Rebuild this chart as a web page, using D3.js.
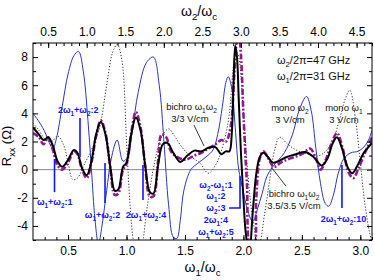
<!DOCTYPE html>
<html><head><meta charset="utf-8">
<script src="https://cdn.jsdelivr.net/npm/d3@7"></script>
<style>body{margin:0;background:#fff}svg{display:block;font-family:"Liberation Sans",Arial,sans-serif}</style>
</head><body><svg id="c" width="374" height="280"></svg>
<script>
// ---- data (x = ω1/ωc, y = Rxx in Ω) ----
const bichro3X = [0.2,0.25,0.29,0.33,0.37,0.41,0.45,0.5,0.55,0.58,0.62,0.66,0.7,0.74,0.78,0.82,0.86,0.9,0.93,0.97,1.0,1.04,1.08,1.12,1.16,1.2,1.23,1.27,1.31,1.35,1.4,1.46,1.52,1.58,1.64,1.7,1.76,1.81,1.85,1.88,1.9,1.915,1.93,1.945,1.96,1.98,2.0,2.02,2.05,2.08,2.11,2.14,2.17,2.21,2.25,2.3,2.37,2.45,2.53,2.6,2.67,2.72,2.76,2.8,2.84,2.89,2.93,2.97,3.03,3.1];
const bichro3Y = [3.0,2.5,2.1,2.3,1.7,0.6,0.2,0.7,1.4,1.2,0.1,-0.4,0.6,2.5,3.4,2.5,0.3,-1.5,-1.4,0.2,0.5,2.5,3.7,2.8,0.3,-1.6,-1.7,0.3,1.8,1.9,1.2,0.55,1.0,1.35,1.3,1.55,1.6,1.1,1.3,1.3,2.5,6.0,8.8,8.0,5.0,1.0,-2.0,-4.5,-6.0,-3.0,-0.3,0.9,1.2,0.9,0.5,0.6,0.9,1.1,1.25,0.9,0.3,0.8,1.8,2.3,1.6,0.2,-0.25,0.2,1.2,1.9];

const bichro35X = [0.2,0.25,0.29,0.33,0.37,0.41,0.45,0.5,0.55,0.58,0.62,0.66,0.7,0.74,0.78,0.82,0.86,0.9,0.93,0.97,1.0,1.04,1.08,1.12,1.16,1.2,1.23,1.27,1.3,1.34,1.38,1.43,1.5,1.58,1.64,1.7,1.76,1.81,1.85,1.89,1.92,1.945,1.96,1.98,2.0,2.03,2.06,2.09,2.11,2.14,2.17,2.22,2.26,2.32,2.4,2.5,2.57,2.62,2.66,2.7,2.76,2.8,2.85,2.9,2.94,2.98,3.04,3.1];
const bichro35Y = [2.6,2.3,1.8,2.3,1.4,0.3,0.0,0.5,1.3,1.1,0.0,-0.6,0.5,2.4,3.5,2.6,0.2,-1.8,-1.7,0.0,0.4,2.6,4.1,3.0,0.2,-1.9,-1.9,0.6,2.5,2.3,1.3,0.9,0.7,1.0,1.2,1.5,1.8,2.1,2.0,3.0,6.5,9.3,9.8,8.0,4.0,-1.0,-5.5,-5.5,-2.0,0.8,1.3,0.7,0.2,0.5,0.8,1.1,1.5,0.8,0.0,0.6,2.0,2.6,1.5,-0.2,-0.6,0.0,1.2,2.3];

const monoW2X = [0.2,0.26,0.3,0.34,0.37,0.4,0.45,0.5,0.55,0.59,0.63,0.67,0.7,0.73,0.76,0.79,0.83,0.87,0.92,0.97,1.01,1.05,1.1,1.17,1.23,1.28,1.32,1.36,1.4,1.43,1.46,1.49,1.55,1.61,1.68,1.74,1.78,1.82,1.85,1.87,1.9,1.93,1.96,1.99,2.04,2.08,2.12,2.16,2.2,2.25,2.35,2.42,2.48,2.54,2.58,2.62,2.66,2.7,2.73,2.77,2.81,2.86,2.92,2.98,3.03,3.07,3.1];
const monoW2Y = [4.0,3.3,2.7,1.9,1.5,2.2,4.5,6.8,8.1,8.4,7.0,3.5,0.0,-3.5,-5.3,-4.0,-1.5,0.8,2.1,0.6,0.9,2.8,5.5,7.6,8.0,6.0,2.0,-2.5,-4.8,-4.9,-3.6,-1.5,0.0,0.45,0.9,1.4,2.5,4.5,6.2,6.6,5.8,3.0,0.0,-1.2,-3.0,-3.7,-2.8,-1.7,-0.5,0.2,1.2,2.5,4.3,5.2,4.2,1.5,-1.0,-2.4,-2.6,-1.8,-0.3,0.8,1.2,1.3,1.6,2.1,2.8];

const monoW1X = [0.2,0.25,0.3,0.36,0.41,0.46,0.5,0.54,0.58,0.64,0.7,0.77,0.83,0.88,0.92,0.96,1.0,1.03,1.06,1.09,1.13,1.18,1.24,1.3,1.36,1.41,1.46,1.54,1.63,1.7,1.77,1.84,1.88,1.91,1.935,1.96,2.0,2.04,2.08,2.13,2.18,2.22,2.27,2.31,2.38,2.45,2.55,2.65,2.75,2.82,2.87,2.91,2.96,3.0,3.04,3.08,3.1];
const monoW1Y = [3.3,2.8,2.2,2.0,2.4,1.8,0.5,-0.7,-0.6,0.4,1.4,3.0,6.0,8.3,8.9,7.8,2.0,-2.5,-5.2,-6.5,-5.5,-2.5,0.5,2.3,2.9,2.4,1.75,1.0,0.45,-0.25,0.45,2.2,4.0,7.0,8.5,8.0,4.0,-0.5,-3.5,-5.5,-3.2,-1.0,1.5,2.3,1.8,1.4,1.1,1.0,1.8,3.5,5.0,5.65,3.5,0.5,-2.5,-4.5,-5.2];

// tick values
const xMajor = [0.5,1.0,1.5,2.0,2.5,3.0];
const topMajor = [0.5,1.0,1.5,2.0,2.5,3.0,3.5,4.0,4.5];
const yMajor = [-4,-2,0,2,4,6,8];
const yMinor = [-5,-3,-1,1,3,5,7,9];
const freqRatio = 47/31;

// annotations (positions in data units)
const markers = [
  {x:0.602, y0:3.67, y1:0.9},
  {x:0.384, y0:0.75, y1:-1.6},
  {x:0.816, y0:0.47, y1:-2.37},
  {x:1.141, y0:0.33, y1:-2.16},
  {x:2.843, y0:0.33, y1:-2.73}
];
const markerLabels = [
  {x:0.587, y:4.0, t:"2ω_1+ω_2:2", a:"middle"},
  {x:0.234, y:-2.52, t:"ω_1+ω_2:1", a:"start"},
  {x:0.795, y:-3.44, t:"ω_1+ω_2:2", a:"middle"},
  {x:1.167, y:-3.44, t:"2ω_1+ω_2:4", a:"middle"},
  {x:2.856, y:-3.72, t:"2ω_1+ω_2:10", a:"middle"}
];
const stackLabels = ["ω_2-ω_1:1","ω_1:2","ω_2:3","2ω_1:4","ω_1+ω_2:5"];
const stackY = [-1.31,-2.12,-2.94,-3.8,-4.65];

const W=374,H=280, L=33,R=372,T=43,B=240;
const svg = d3.select("#c");
const x = d3.scaleLinear().domain([0.2,3.1]).range([L,R]);
const xTop = d3.scaleLinear().domain([0.2*freqRatio,3.1*freqRatio]).range([L,R]);
const y = d3.scaleLinear().domain([-5,9]).range([B,T]);

function rich(t, s, fs){
  let shift=0; const re=/_\{([^}]*)\}|_(.)|([^_]+)/g; let m;
  while((m=re.exec(s))){
    const sub = m[1]!==undefined?m[1]:m[2];
    if(sub!==undefined){ t.append("tspan").attr("dy",fs*0.3-shift).attr("font-size",fs*0.7).text(sub); shift=fs*0.3; }
    else { t.append("tspan").attr("dy",-shift).text(m[3]); shift=0; }
  }
  return t;
}

svg.append("defs").append("clipPath").attr("id","clip").append("rect")
  .attr("x",L).attr("y",T).attr("width",R-L).attr("height",B-T);

// zero line
svg.append("line").attr("x1",L).attr("x2",R).attr("y1",y(0)).attr("y2",y(0))
  .attr("stroke","#555").attr("stroke-width",0.7);

const line = d3.line().x(d=>x(d[0])).y(d=>y(d[1])).curve(d3.curveCatmullRom.alpha(0.5));
const g = svg.append("g").attr("clip-path","url(#clip)");
const series = [
  {X:monoW1X,Y:monoW1Y,stroke:"#333",w:1,dash:"1.2,1.8"},
  {X:monoW2X,Y:monoW2Y,stroke:"#2a36c0",w:1,dash:null},
  {X:bichro35X,Y:bichro35Y,stroke:"#8e1b8e",w:2.6,dash:"6,2,1.8,2"},
  {X:bichro3X,Y:bichro3Y,stroke:"#000",w:2,dash:null}
];
series.forEach(s=>{
  g.append("path").datum(s.X.map((v,i)=>[v,s.Y[i]])).attr("d",line)
   .attr("fill","none").attr("stroke",s.stroke).attr("stroke-width",s.w)
   .attr("stroke-dasharray",s.dash).attr("stroke-linejoin","round");
});

// axes
function clean(a){ a.select(".domain").remove(); a.selectAll("line").attr("stroke","#000"); a.selectAll("text").attr("font-size",12).attr("font-family","Liberation Sans, Arial").attr("fill","#000"); }
const xMinor = d3.range(3,32).map(i=>i/10);
const topMinor = d3.range(4,48).map(i=>i/10);
svg.append("g").attr("transform",`translate(0,${B})`).call(d3.axisBottom(x).tickValues(xMinor).tickSize(-3).tickFormat("")).call(clean);
svg.append("g").attr("transform",`translate(0,${B})`).call(d3.axisBottom(x).tickValues(xMajor).tickSizeInner(-5).tickSizeOuter(0).tickPadding(6).tickFormat(d3.format(".1f"))).call(clean);
svg.append("g").attr("transform",`translate(0,${T})`).call(d3.axisTop(xTop).tickValues(topMinor).tickSize(-3).tickFormat("")).call(clean);
svg.append("g").attr("transform",`translate(0,${T})`).call(d3.axisTop(xTop).tickValues(topMajor).tickSizeInner(-5).tickSizeOuter(0).tickPadding(7).tickFormat(d3.format(".1f"))).call(clean);
svg.append("g").attr("transform",`translate(${L},0)`).call(d3.axisLeft(y).tickValues(yMinor).tickSize(-3).tickFormat("")).call(clean);
svg.append("g").attr("transform",`translate(${L},0)`).call(d3.axisLeft(y).tickValues(yMajor).tickSizeInner(-5).tickSizeOuter(0).tickPadding(5).tickFormat(d=>String(d))).call(clean);
svg.append("g").attr("transform",`translate(${R},0)`).call(d3.axisRight(y).tickValues(yMinor).tickSize(-3).tickFormat("")).call(clean);
svg.append("g").attr("transform",`translate(${R},0)`).call(d3.axisRight(y).tickValues(yMajor).tickSize(-5).tickFormat("")).call(clean);
svg.append("rect").attr("x",L).attr("y",T).attr("width",R-L).attr("height",B-T)
  .attr("fill","none").attr("stroke","#000").attr("stroke-width",1);

// axis titles
rich(svg.append("text").attr("x",(L+R)/2).attr("y",272).attr("text-anchor","middle").attr("font-size",14),"ω_1/ω_c",14);
rich(svg.append("text").attr("x",199).attr("y",16).attr("text-anchor","middle").attr("font-size",14),"ω_2/ω_c",14);
rich(svg.append("text").attr("transform","translate(11,146) rotate(-90)").attr("text-anchor","middle").attr("font-size",13),"R_{xx} (Ω)",13);

// blue markers
const blue="#1414ff";
svg.selectAll(".mk").data(markers).join("line").attr("x1",d=>x(d.x)).attr("x2",d=>x(d.x))
  .attr("y1",d=>y(d.y0)).attr("y2",d=>y(d.y1)).attr("stroke",blue).attr("stroke-width",1.6);
markerLabels.forEach(d=>{
  rich(svg.append("text").attr("x",x(d.x)).attr("y",y(d.y)).attr("text-anchor",d.a)
    .attr("font-size",9).attr("font-weight","bold").attr("fill",blue),d.t,9);
});
stackLabels.forEach((t,i)=>{
  rich(svg.append("text").attr("x",x(1.765)).attr("y",y(stackY[i])).attr("text-anchor","middle")
    .attr("font-size",9).attr("font-weight","bold").attr("fill",blue),t,9);
});
svg.append("path").attr("d",`M${x(1.877)},${y(-2.73)}H${x(1.971)}V${y(-0.47)}`)
  .attr("fill","none").attr("stroke",blue).attr("stroke-width",1.6);

// black labels
function lab(xv,yv,t,fs,anchor){ return rich(svg.append("text").attr("x",x(xv)).attr("y",y(yv)).attr("text-anchor",anchor||"middle").attr("font-size",fs).attr("fill","#111"),t,fs); }
lab(1.556,4.24,"bichro ω_1ω_2",9.5);
lab(1.543,3.38,"3/3 V/cm",9.5);
svg.append("line").attr("x1",x(1.577)).attr("y1",y(3.17)).attr("x2",x(1.663)).attr("y2",y(1.68)).attr("stroke","#000").attr("stroke-width",0.8);
lab(2.433,-1.95,"bichro  ω_1ω_2",9.5);
lab(2.433,-2.8,"3.5/3.5 V/cm",9.5);
svg.append("line").attr("x1",x(2.364)).attr("y1",y(-1.17)).attr("x2",x(2.245)).attr("y2",y(0.11)).attr("stroke","#000").attr("stroke-width",0.8);
lab(2.287,7.5,"ω_2/2π=47 GHz",11,"start");
lab(2.287,6.37,"ω_1/2π=31 GHz",11,"start");
lab(2.398,4.16,"mono ω_2",9.5);
lab(2.398,3.31,"3 V/cm",9.5);
lab(2.86,4.16,"mono ω_1",9.5);
lab(2.86,3.31,"3 V/cm",9.5);
</script></body></html>
